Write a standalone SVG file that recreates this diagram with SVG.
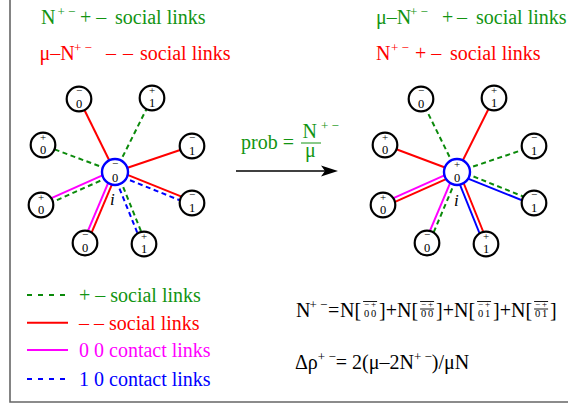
<svg xmlns="http://www.w3.org/2000/svg" width="568" height="408" viewBox="0 0 568 408">
<style>
.t{font-family:"Liberation Serif","Times New Roman",serif;font-size:20px}
.sup{font-size:13px}
.gr{fill:#129412}.rd{fill:#ff0000}.mg{fill:#ff00ff}.bl{fill:#0000ff}.bk{fill:#000}
.node circle{fill:#fff;stroke:#000;stroke-width:2.2}
.node.c circle{stroke:#0000ff;stroke-width:2.4}
.node text{font-family:"Liberation Serif","Times New Roman",serif;font-size:12.5px;text-anchor:middle;fill:#000}
.node text.s{font-size:11px}
.node text.i{font-style:italic;font-size:17px;text-anchor:start}
.ln{stroke-width:2;fill:none}
.r{stroke:#ff0000}.g{stroke:#0b8a0b}.m{stroke:#ff00ff}.b{stroke:#0000ff}
.d{stroke-dasharray:5 3.5}
.sm{font-family:"Liberation Serif","Times New Roman",serif;font-size:9px;text-anchor:middle;fill:#000}
.dg{font-family:"Liberation Serif","Times New Roman",serif;font-size:10.5px;text-anchor:middle;fill:#000}
.ol{stroke:#000;stroke-width:0.9}
</style>

<path d="M10 0 V402 H568" fill="none" stroke="#666" stroke-width="1.6"/>

<g id="labels-left" class="t">
<text class="gr" y="24"><tspan x="41">N</tspan><tspan class="sup" x="57.5" y="16">+ −</tspan><tspan x="80" y="24">+ –</tspan><tspan x="115">social links</tspan></text>
<text class="rd" y="60"><tspan x="39.5">μ–N</tspan><tspan class="sup" x="74" y="52">+ −</tspan><tspan x="106" y="60">–</tspan><tspan x="123">–</tspan><tspan x="140">social links</tspan></text>
</g>
<g id="labels-right" class="t">
<text class="gr" y="24"><tspan x="376">μ–N</tspan><tspan class="sup" x="410" y="16">+ −</tspan><tspan x="442" y="24">+</tspan><tspan x="457">–</tspan><tspan x="476">social links</tspan></text>
<text class="rd" y="60"><tspan x="376">N</tspan><tspan class="sup" x="391" y="52">+ −</tspan><tspan x="415" y="60">+ –</tspan><tspan x="450">social links</tspan></text>
</g>

<g id="connectors">
<line class="ln r" x1="115" y1="172" x2="79" y2="99"/>
<line class="ln g d" x1="115" y1="172" x2="152" y2="98"/>
<line class="ln g d" x1="115" y1="172" x2="43" y2="145"/>
<line class="ln r" x1="115" y1="172" x2="192" y2="146"/>
<line class="ln m" x1="114.19" y1="170.17" x2="40.19" y2="203.17"/>
<line class="ln g d" x1="115.81" y1="173.83" x2="41.81" y2="206.83"/>
<line class="ln r" x1="115.75" y1="170.14" x2="192.75" y2="201.14"/>
<line class="ln b d" x1="114.25" y1="173.86" x2="191.25" y2="204.86"/>
<line class="ln m" x1="113.16" y1="171.22" x2="83.16" y2="242.22"/>
<line class="ln r" x1="116.84" y1="172.78" x2="86.84" y2="243.78"/>
<line class="ln b d" x1="113.14" y1="172.75" x2="142.14" y2="244.75"/>
<line class="ln g d" x1="116.86" y1="171.25" x2="145.86" y2="243.25"/>

<line class="ln g d" x1="457" y1="172" x2="421" y2="99"/>
<line class="ln r" x1="457" y1="172" x2="494" y2="98"/>
<line class="ln r" x1="457" y1="172" x2="385" y2="145"/>
<line class="ln g d" x1="457" y1="172" x2="534" y2="146"/>
<line class="ln m" x1="456.19" y1="170.17" x2="382.19" y2="203.17"/>
<line class="ln r" x1="457.81" y1="173.83" x2="383.81" y2="206.83"/>
<line class="ln g d" x1="457.75" y1="170.14" x2="534.75" y2="201.14"/>
<line class="ln b" x1="456.25" y1="173.86" x2="533.25" y2="204.86"/>
<line class="ln m" x1="455.16" y1="171.22" x2="425.16" y2="242.22"/>
<line class="ln g d" x1="458.84" y1="172.78" x2="428.84" y2="243.78"/>
<line class="ln b" x1="455.14" y1="172.75" x2="484.14" y2="244.75"/>
<line class="ln r" x1="458.86" y1="171.25" x2="487.86" y2="243.25"/>
</g>

<g id="left-star">
<g id="L-center" class="node c" transform="translate(115,172)"><circle r="13"/><text class="s" y="-5">−</text><text y="9.5">0</text><text class="i" x="-5" y="33">i</text></g>
<g id="L-A" class="node" transform="translate(79,99)"><circle r="12.3"/><text class="s" y="-5.5">−</text><text y="8.5">0</text></g>
<g id="L-B" class="node" transform="translate(152,98)"><circle r="12.3"/><text class="s" y="-4.5">+</text><text y="8.5">1</text></g>
<g id="L-C" class="node" transform="translate(43,145)"><circle r="12.3"/><text class="s" y="-4.5">+</text><text y="8.5">0</text></g>
<g id="L-D" class="node" transform="translate(192,146)"><circle r="12.3"/><text class="s" y="-5.5">−</text><text y="8.5">1</text></g>
<g id="L-E" class="node" transform="translate(41,205)"><circle r="12.3"/><text class="s" y="-4.5">+</text><text y="8.5">0</text></g>
<g id="L-F" class="node" transform="translate(192,203)"><circle r="12.3"/><text class="s" y="-5.5">−</text><text y="8.5">1</text></g>
<g id="L-G" class="node" transform="translate(85,243)"><circle r="12.3"/><text class="s" y="-5.5">−</text><text y="8.5">0</text></g>
<g id="L-H" class="node" transform="translate(144,244)"><circle r="12.3"/><text class="s" y="-4.5">+</text><text y="8.5">1</text></g>
</g>

<g id="right-star">
<g id="R-center" class="node c" transform="translate(457,172)"><circle r="13"/><text class="s" y="-4">+</text><text y="9.5">0</text><text class="i" x="-3" y="34">i</text></g>
<g id="R-A" class="node" transform="translate(421,99)"><circle r="12.3"/><text class="s" y="-5.5">−</text><text y="8.5">0</text></g>
<g id="R-B" class="node" transform="translate(494,98)"><circle r="12.3"/><text class="s" y="-4.5">+</text><text y="8.5">1</text></g>
<g id="R-C" class="node" transform="translate(385,145)"><circle r="12.3"/><text class="s" y="-4.5">+</text><text y="8.5">0</text></g>
<g id="R-D" class="node" transform="translate(534,146)"><circle r="12.3"/><text class="s" y="-5.5">−</text><text y="8.5">1</text></g>
<g id="R-E" class="node" transform="translate(383,205)"><circle r="12.3"/><text class="s" y="-4.5">+</text><text y="8.5">0</text></g>
<g id="R-F" class="node" transform="translate(534,203)"><circle r="12.3"/><text class="s" y="-5.5">−</text><text y="8.5">1</text></g>
<g id="R-G" class="node" transform="translate(427,243)"><circle r="12.3"/><text class="s" y="-5.5">−</text><text y="8.5">0</text></g>
<g id="R-H" class="node" transform="translate(486,244)"><circle r="12.3"/><text class="s" y="-4.5">+</text><text y="8.5">1</text></g>
</g>

<g id="transition">
<line x1="236" y1="171" x2="326" y2="171" stroke="#000" stroke-width="1.3"/>
<polygon points="338,171 321,165.5 325,171 321,176.5" fill="#000"/>
<text class="t gr" x="241" y="149">prob =</text>
<text class="t gr"><tspan x="302.5" y="137.5">N</tspan><tspan class="sup" x="321" y="129.5">+ −</tspan><tspan x="305" y="157">μ</tspan></text>
<line x1="301" y1="143" x2="321" y2="143" stroke="#129412" stroke-width="1"/>
</g>

<g id="legend">
<line class="ln g" x1="27" y1="295" x2="68" y2="295" stroke-dasharray="5 6"/>
<text class="t gr" x="79" y="302">+ – social links</text>
<line class="ln r" x1="27" y1="322.7" x2="68" y2="322.7"/>
<text class="t rd" x="79" y="330">– – social links</text>
<line class="ln m" x1="27" y1="350" x2="68" y2="350"/>
<text class="t mg" x="79" y="357">0 0 contact links</text>
<line class="ln b" x1="27" y1="379" x2="68" y2="379" stroke-dasharray="5 6"/>
<text class="t bl" x="79" y="386">1 0 contact links</text>
</g>

<g id="formula-n">
<text class="t bk" x="296" y="317">N<tspan class="sup" x="309.5" y="309">+ −</tspan><tspan x="328" y="317">=</tspan></text>
<text class="t bk" x="340" y="317">N[</text>
<line class="ol" x1="363.1" y1="301.5" x2="377.1" y2="301.5"/>
<text class="sm"><tspan x="366.6" y="306.5">−</tspan><tspan x="373.6">+</tspan></text>
<text class="dg"><tspan x="366.6" y="317">0</tspan><tspan x="373.6">0</tspan></text>
<text class="t bk" x="379.1" y="317">]+</text>
<text class="t bk" x="397" y="317">N[</text>
<line class="ol" x1="420.1" y1="301.5" x2="434.1" y2="301.5"/>
<line class="ol" x1="420.1" y1="309" x2="434.1" y2="309"/>
<text class="sm"><tspan x="423.6" y="306.5">−</tspan><tspan x="430.6">+</tspan></text>
<text class="dg"><tspan x="423.6" y="317">0</tspan><tspan x="430.6">0</tspan></text>
<text class="t bk" x="436.1" y="317">]+</text>
<text class="t bk" x="454" y="317">N[</text>
<line class="ol" x1="477.1" y1="301.5" x2="491.1" y2="301.5"/>
<text class="sm"><tspan x="480.6" y="306.5">−</tspan><tspan x="487.6">+</tspan></text>
<text class="dg"><tspan x="480.6" y="317">0</tspan><tspan x="487.6">1</tspan></text>
<text class="t bk" x="493.1" y="317">]+</text>
<text class="t bk" x="511" y="317">N[</text>
<line class="ol" x1="534.1" y1="301.5" x2="548.1" y2="301.5"/>
<line class="ol" x1="534.1" y1="309" x2="548.1" y2="309"/>
<text class="sm"><tspan x="537.6" y="306.5">−</tspan><tspan x="544.6">+</tspan></text>
<text class="dg"><tspan x="537.6" y="317">0</tspan><tspan x="544.6">1</tspan></text>
<text class="t bk" x="550.1" y="317">]</text>
</g>

<g id="formula-rho">
<text class="t bk" x="295" y="369">Δρ<tspan class="sup" dy="-8">+ −</tspan><tspan dy="8">= 2(μ–2N</tspan><tspan class="sup" dy="-8">+ −</tspan><tspan dy="8">)/μN</tspan></text>
</g>
</svg>
